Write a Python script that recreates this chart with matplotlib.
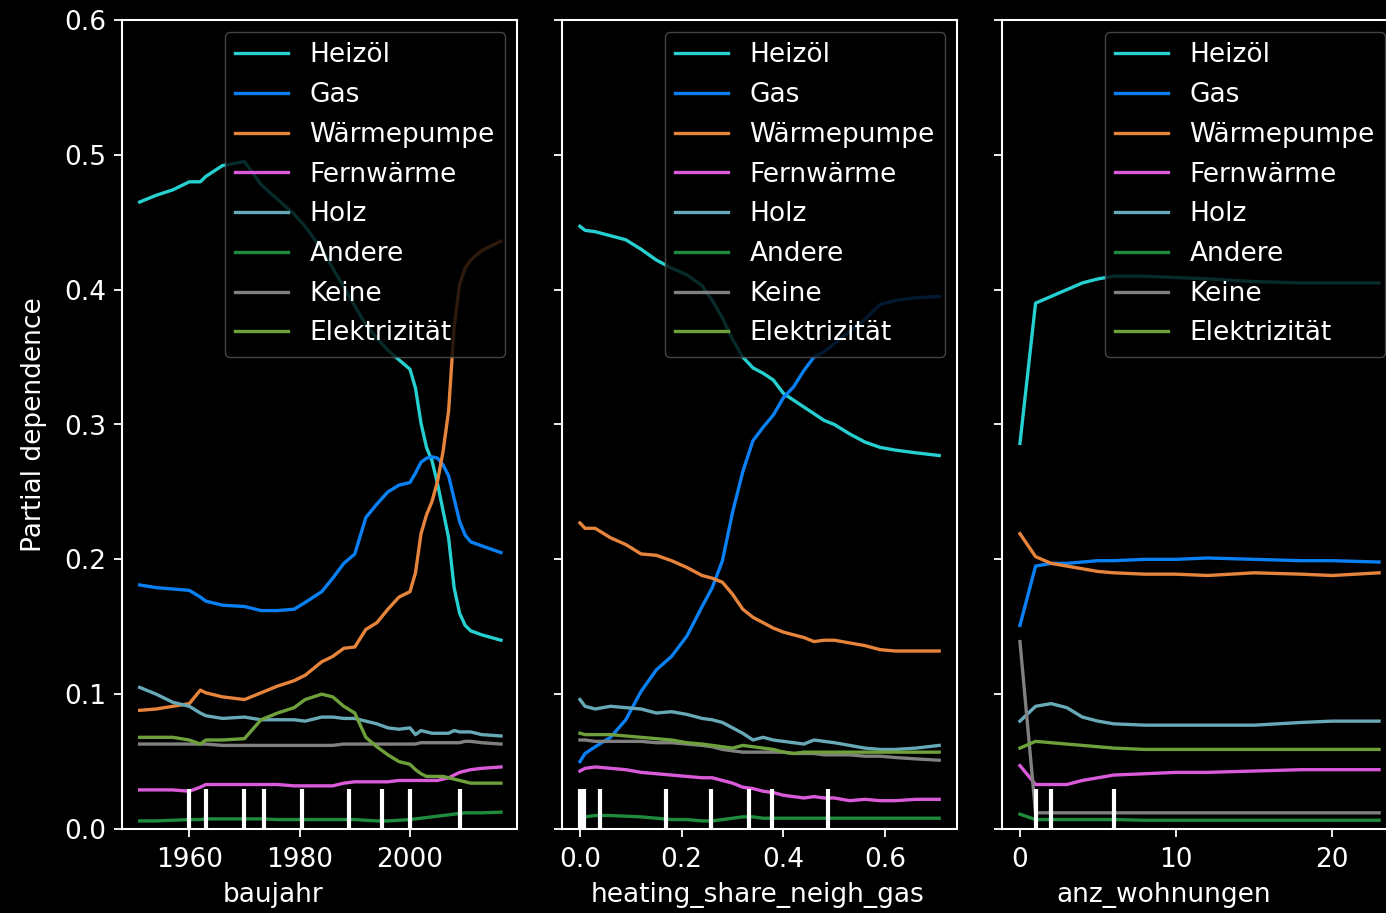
# Partial dependence of heating type on three features

import matplotlib
matplotlib.use("Agg")
import matplotlib.pyplot as plt

plt.style.use("dark_background")
plt.rcParams["font.family"] = ["DejaVu Sans"]
plt.rcParams["font.size"] = 19

labels = ["Heizöl", "Gas", "Wärmepumpe", "Fernwärme", "Holz", "Andere", "Keine", "Elektrizität"]
colors = ["#27d0d0", "#0a80f5", "#e6843c", "#da5ada", "#68a9b8", "#1e8c3c", "#808080", "#6ea03c"]

# ---- baujahr ----
baujahr = [1951, 1954, 1957, 1960, 1962, 1963, 1966, 1970, 1973, 1976, 1979, 1981, 1984, 1986, 1988,
           1990, 1992, 1994, 1996, 1998, 2000, 2001, 2002, 2003, 2004, 2005, 2006, 2007, 2008, 2009,
           2010, 2011, 2013, 2016.5]
bj_heizoel = [0.465, 0.470, 0.474, 0.480, 0.480, 0.484, 0.492, 0.495, 0.478, 0.467, 0.456, 0.447, 0.430, 0.416, 0.402,
              0.388, 0.374, 0.364, 0.355, 0.348, 0.341, 0.327, 0.301, 0.283, 0.273, 0.256, 0.236, 0.216, 0.179, 0.160,
              0.151, 0.147, 0.144, 0.140]
bj_gas = [0.181, 0.179, 0.178, 0.177, 0.172, 0.169, 0.166, 0.165, 0.162, 0.162, 0.163, 0.168, 0.176, 0.186, 0.197,
          0.204, 0.231, 0.241, 0.250, 0.255, 0.257, 0.264, 0.272, 0.275, 0.276, 0.275, 0.270, 0.262, 0.245, 0.228,
          0.218, 0.213, 0.210, 0.205]
bj_waermepumpe = [0.088, 0.089, 0.091, 0.093, 0.103, 0.101, 0.098, 0.096, 0.101, 0.106, 0.110, 0.114, 0.124, 0.128, 0.134,
                  0.135, 0.148, 0.153, 0.163, 0.172, 0.176, 0.190, 0.219, 0.233, 0.243, 0.258, 0.280, 0.310, 0.372, 0.404,
                  0.416, 0.422, 0.429, 0.436]
bj_fernwaerme = [0.029, 0.029, 0.029, 0.028, 0.031, 0.033, 0.033, 0.033, 0.033, 0.033, 0.032, 0.032, 0.032, 0.032, 0.034,
                 0.035, 0.035, 0.035, 0.035, 0.036, 0.036, 0.036, 0.036, 0.036, 0.036, 0.036, 0.037, 0.038, 0.040, 0.042,
                 0.043, 0.044, 0.045, 0.046]
bj_holz = [0.105, 0.100, 0.094, 0.091, 0.086, 0.084, 0.082, 0.083, 0.081, 0.081, 0.081, 0.080, 0.083, 0.083, 0.082,
           0.082, 0.080, 0.078, 0.075, 0.074, 0.075, 0.070, 0.073, 0.072, 0.071, 0.071, 0.071, 0.071, 0.073, 0.072,
           0.072, 0.072, 0.070, 0.069]
bj_andere = [0.006, 0.006, 0.0065, 0.007, 0.007, 0.0075, 0.0075, 0.0075, 0.0075, 0.007, 0.007, 0.007, 0.007, 0.007, 0.007,
             0.007, 0.0065, 0.006, 0.006, 0.0065, 0.007, 0.0075, 0.008, 0.0085, 0.009, 0.0095, 0.010, 0.0105, 0.011, 0.0115,
             0.012, 0.012, 0.012, 0.0125]
bj_keine = [0.063, 0.063, 0.063, 0.063, 0.063, 0.063, 0.062, 0.062, 0.062, 0.062, 0.062, 0.062, 0.062, 0.062, 0.063,
            0.063, 0.063, 0.063, 0.063, 0.063, 0.063, 0.063, 0.064, 0.064, 0.064, 0.064, 0.064, 0.064, 0.064, 0.064,
            0.065, 0.065, 0.064, 0.063]
bj_elektrizitaet = [0.068, 0.068, 0.068, 0.066, 0.063, 0.066, 0.066, 0.067, 0.081, 0.086, 0.090, 0.096, 0.100, 0.098, 0.091,
                    0.086, 0.068, 0.061, 0.055, 0.050, 0.048, 0.044, 0.041, 0.039, 0.039, 0.039, 0.039, 0.038, 0.037, 0.036,
                    0.035, 0.034, 0.034, 0.034]
bj_deciles = [1960, 1963, 1970, 1973.5, 1980.5, 1989, 1995, 2000, 2009]

# ---- heating_share_neigh_gas ----
share_gas = [0.0, 0.01, 0.03, 0.06, 0.09, 0.12, 0.15, 0.18, 0.21, 0.24, 0.26, 0.28, 0.30, 0.32, 0.34,
             0.36, 0.38, 0.40, 0.42, 0.44, 0.46, 0.48, 0.50, 0.53, 0.56, 0.59, 0.62, 0.66, 0.706]
sg_heizoel = [0.447, 0.444, 0.443, 0.440, 0.437, 0.430, 0.422, 0.416, 0.411, 0.403, 0.392, 0.379, 0.363, 0.350, 0.342,
              0.338, 0.333, 0.323, 0.318, 0.313, 0.308, 0.303, 0.300, 0.293, 0.287, 0.283, 0.281, 0.279, 0.277]
sg_gas = [0.050, 0.056, 0.061, 0.068, 0.081, 0.102, 0.118, 0.128, 0.143, 0.165, 0.179, 0.199, 0.235, 0.265, 0.288,
          0.298, 0.307, 0.320, 0.328, 0.340, 0.350, 0.354, 0.360, 0.369, 0.378, 0.389, 0.392, 0.394, 0.395]
sg_waermepumpe = [0.227, 0.223, 0.223, 0.216, 0.211, 0.204, 0.203, 0.199, 0.194, 0.188, 0.186, 0.183, 0.174, 0.163, 0.157,
                  0.153, 0.149, 0.146, 0.144, 0.142, 0.139, 0.140, 0.140, 0.138, 0.136, 0.133, 0.132, 0.132, 0.132]
sg_fernwaerme = [0.043, 0.045, 0.046, 0.045, 0.044, 0.042, 0.041, 0.040, 0.039, 0.038, 0.038, 0.036, 0.034, 0.031, 0.030,
                 0.028, 0.027, 0.025, 0.024, 0.023, 0.024, 0.023, 0.023, 0.021, 0.022, 0.021, 0.021, 0.022, 0.022]
sg_holz = [0.096, 0.091, 0.089, 0.091, 0.090, 0.089, 0.086, 0.087, 0.085, 0.082, 0.081, 0.079, 0.075, 0.071, 0.066,
           0.068, 0.066, 0.065, 0.064, 0.063, 0.066, 0.065, 0.064, 0.062, 0.060, 0.059, 0.059, 0.060, 0.062]
sg_andere = [0.008, 0.009, 0.010, 0.010, 0.0095, 0.009, 0.008, 0.007, 0.007, 0.006, 0.006, 0.007, 0.008, 0.009, 0.009,
             0.008, 0.008, 0.008, 0.008, 0.008, 0.008, 0.008, 0.008, 0.008, 0.008, 0.008, 0.008, 0.008, 0.008]
sg_keine = [0.066, 0.066, 0.065, 0.065, 0.065, 0.065, 0.064, 0.064, 0.063, 0.062, 0.061, 0.059, 0.058, 0.057, 0.057,
            0.057, 0.057, 0.057, 0.056, 0.056, 0.056, 0.055, 0.055, 0.055, 0.054, 0.054, 0.053, 0.052, 0.051]
sg_elektrizitaet = [0.071, 0.070, 0.070, 0.070, 0.069, 0.068, 0.067, 0.066, 0.064, 0.063, 0.062, 0.061, 0.060, 0.062, 0.061,
                    0.060, 0.059, 0.057, 0.056, 0.057, 0.057, 0.057, 0.057, 0.057, 0.057, 0.057, 0.057, 0.057, 0.057]
sg_deciles = [0.0, 0.008, 0.039, 0.17, 0.258, 0.333, 0.378, 0.487]

# ---- anz_wohnungen ----
wohnungen = [0, 1, 2, 3, 4, 5, 6, 8, 10, 12, 15, 18, 20, 23]
aw_heizoel = [0.286, 0.390, 0.395, 0.400, 0.405, 0.408, 0.410, 0.410, 0.409, 0.408, 0.406, 0.405, 0.405, 0.405]
aw_gas = [0.151, 0.195, 0.197, 0.197, 0.198, 0.199, 0.199, 0.200, 0.200, 0.201, 0.200, 0.199, 0.199, 0.198]
aw_waermepumpe = [0.219, 0.202, 0.197, 0.195, 0.193, 0.191, 0.190, 0.189, 0.189, 0.188, 0.190, 0.189, 0.188, 0.190]
aw_fernwaerme = [0.047, 0.033, 0.033, 0.033, 0.036, 0.038, 0.040, 0.041, 0.042, 0.042, 0.043, 0.044, 0.044, 0.044]
aw_holz = [0.080, 0.091, 0.093, 0.090, 0.083, 0.080, 0.078, 0.077, 0.077, 0.077, 0.077, 0.079, 0.080, 0.080]
aw_andere = [0.011, 0.007, 0.007, 0.007, 0.007, 0.007, 0.007, 0.0065, 0.0065, 0.0065, 0.0065, 0.0065, 0.0065, 0.0065]
aw_keine = [0.139, 0.012, 0.012, 0.012, 0.012, 0.012, 0.012, 0.012, 0.012, 0.012, 0.012, 0.012, 0.012, 0.012]
aw_elektrizitaet = [0.060, 0.065, 0.064, 0.063, 0.062, 0.061, 0.060, 0.059, 0.059, 0.059, 0.059, 0.059, 0.059, 0.059]
aw_deciles = [1, 2, 6]

panels = [
    ("baujahr", baujahr, [bj_heizoel, bj_gas, bj_waermepumpe, bj_fernwaerme, bj_holz, bj_andere, bj_keine, bj_elektrizitaet],
     bj_deciles, [1960, 1980, 2000], (1947.8, 2019.4), 0.383),
    ("heating_share_neigh_gas", share_gas, [sg_heizoel, sg_gas, sg_waermepumpe, sg_fernwaerme, sg_holz, sg_andere, sg_keine, sg_elektrizitaet],
     sg_deciles, [0.0, 0.2, 0.4, 0.6], (-0.0353, 0.741), 0.496),
    ("anz_wohnungen", wohnungen, [aw_heizoel, aw_gas, aw_waermepumpe, aw_fernwaerme, aw_holz, aw_andere, aw_keine, aw_elektrizitaet],
     aw_deciles, [0, 10, 20], (-1.15, 24.15), 0.41),
]

fig = plt.figure(figsize=(13.86, 9.13), dpi=100)
lefts = [122, 562, 1002]

for i, (name, xs, series, deciles, xticks, xlim, label_x) in enumerate(panels):
    ax = fig.add_axes([lefts[i] / 1386, 84 / 913, 395 / 1386, 809 / 913])
    for ys, lab, col in zip(series, labels, colors):
        ax.plot(xs, ys, color=col, lw=2.4, label=lab)
    ax.vlines(deciles, 0, 0.05, transform=ax.get_xaxis_transform(), color="white", lw=3)
    ax.set_xlim(*xlim)
    ax.set_ylim(0, 0.6)
    ax.set_xticks(xticks)
    ax.set_yticks([0.0, 0.1, 0.2, 0.3, 0.4, 0.5, 0.6])
    if i == 0:
        ax.set_ylabel("Partial dependence")
        ax.yaxis.set_label_coords(-0.19, 0.5)
    else:
        ax.set_yticklabels([])
    ax.set_xlabel(name)
    ax.xaxis.set_label_coords(label_x, -0.066)
    ax.tick_params(axis="y", length=6, width=1.3, pad=5.5)
    ax.tick_params(axis="x", length=6, width=1.3, pad=7)
    for sp in ["top", "right", "left", "bottom"]:
        ax.spines[sp].set_linewidth(1.5)
    ax.legend(loc="upper right", facecolor="black", edgecolor="#555555", framealpha=0.8,
              labelspacing=0.52, borderaxespad=0.45)

fig.savefig("out.png", dpi=100, facecolor="black")
